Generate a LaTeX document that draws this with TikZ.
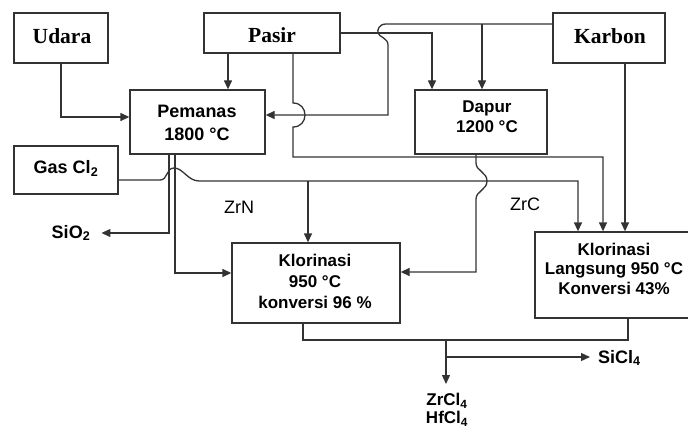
\documentclass[tikz,border=0pt]{standalone}
\usepackage{fontspec}
\setmainfont{Liberation Sans}
\newfontfamily\timesf{Liberation Serif}
\usetikzlibrary{arrows.meta}
\definecolor{ln}{gray}{0.2}
\begin{document}
\begin{tikzpicture}[x=1pt,y=-1pt,
  box/.style={draw=ln, line width=1.3pt, inner sep=0pt},
  wire/.style={draw=ln, line width=1.3pt},
  arr/.style={wire, -{Triangle[length=9pt,width=8pt]}},
  rawtxt/.style={font=\timesf\bfseries\fontsize{21.5}{24}\selectfont, inner sep=0pt},
  boxtxt/.style={font=\bfseries\fontsize{17}{20}\selectfont, align=center, inner sep=0pt},
  lbl/.style={font=\bfseries\fontsize{18}{20}\selectfont, inner sep=0pt},
  plain/.style={font=\fontsize{18}{20}\selectfont, inner sep=0pt},
]
\useasboundingbox (0,0) rectangle (688,428);

% boxes
\node[box, minimum width=94pt, minimum height=50pt] (udara) at (61,38) {};
\node[box, minimum width=136pt, minimum height=40pt] (pasir) at (272,33) {};
\node[box, minimum width=112pt, minimum height=50pt] (karbon) at (609,38) {};
\node[box, minimum width=135pt, minimum height=64pt] (pemanas) at (197.5,122) {};
\node[box, minimum width=132pt, minimum height=64pt] (dapur) at (481,122) {};
\node[box, minimum width=104pt, minimum height=48pt] (gas) at (66,170) {};
\node[box, minimum width=168pt, minimum height=80pt] (klor1) at (316,283) {};
\node[box, minimum width=160pt, minimum height=86pt] (klor2) at (615,275) {};

% box texts
\node[rawtxt] (udaratxt) at (62,36) {Udara};
\node[rawtxt] (pasirtxt) at (272,35.5) {Pasir};
\node[rawtxt] (karbontxt) at (610,36) {Karbon};
\node[boxtxt, font=\bfseries\fontsize{18}{23}\selectfont] (pemanastxt) at (197,122.5) {Pemanas\\1800 °C};
\node[boxtxt, font=\bfseries\fontsize{17}{20}\selectfont] (dapurtxt) at (487,117) {Dapur\\1200 °C};
\node[boxtxt, font=\bfseries\fontsize{18}{20}\selectfont] (gastxt) at (66,168.5) {Gas Cl\textsubscript{2}};
\node[boxtxt, font=\bfseries\fontsize{17}{21}\selectfont] (klor1txt) at (315,281.5) {Klorinasi\\950 °C\\konversi 96 \%};
\node[boxtxt, font=\bfseries\fontsize{17}{19.5}\selectfont] (klor2txt) at (614,268.5) {Klorinasi\\Langsung 950 °C\\Konversi 43\%};

% free labels
\node[lbl, inner xsep=11pt] (sio2) at (71,233) {SiO\textsubscript{2}};
\node[plain] (zrn) at (239,207) {ZrN};
\node[plain] (zrc) at (525,204) {ZrC};
\node[lbl, inner xsep=8pt, anchor=west] (sicl) at (590,358) {SiCl\textsubscript{4}};
\node[lbl, align=center, inner ysep=9pt, anchor=north, font=\bfseries\fontsize{17}{18}\selectfont] (prod) at (447,384) {ZrCl\textsubscript{4}\\HfCl\textsubscript{4}};

% connectors
\draw[arr] (udara.south) |- (pemanas.west |- 0,117);
\draw[arr] (pasir.south -| 228,0) -- (pemanas.north -| 228,0);
\draw[arr] (pasir.east) -| (dapur.north -| 432,0);
\draw[arr] (karbon.west |- 0,24) -- (386,24)
  .. controls (379,24) and (377,30) .. (378,33)
  .. controls (379,37) and (388,38) .. (388,45)
  -- (388,115) -- (pemanas.east |- 0,115);
\coordinate (kdap) at (482,24);
\draw[arr] (kdap) -- (dapur.north -| kdap);
\draw[arr] (karbon.south -| 625,0) -- (klor2.north -| 625,0);
\draw[arr] (pasir.south -| 293,0) -- (293,103)
  .. controls (309,103) and (309,127) .. (293,127)
  -- (293,157) -| (klor2.north -| 603,0);
\draw[arr] (gas.east |- 0,180) -- (160,180)
  .. controls (168,180) and (166,168) .. (174,168)
  .. controls (183,168) and (188,181) .. (199,181)
  -| (klor2.north -| 578,0);
\coordinate (gbr) at (308,181);
\draw[arr] (gbr) -- (klor1.north -| gbr);
\draw[arr] (dapur.south -| 476,0) -- (476,163)
  .. controls (476,171) and (487,172) .. (487,181)
  .. controls (487,190) and (476,191) .. (476,199)
  |- (klor1.east |- 0,272);
\draw[arr] (pemanas.south -| 169,0) |- (sio2.east);
\draw[arr] (pemanas.south -| 175,0) |- (klor1.west |- 0,273);
\draw[wire] (klor1.south -| 303,0) -- (303,340) -| (klor2.south -| 628,0);
\coordinate (jn) at (446,340);
\draw[arr] (jn) -- (prod.north -| jn);
\coordinate (jn2) at (446,357);
\draw[arr] (jn2) -- (sicl.west |- jn2);
\end{tikzpicture}
\end{document}
